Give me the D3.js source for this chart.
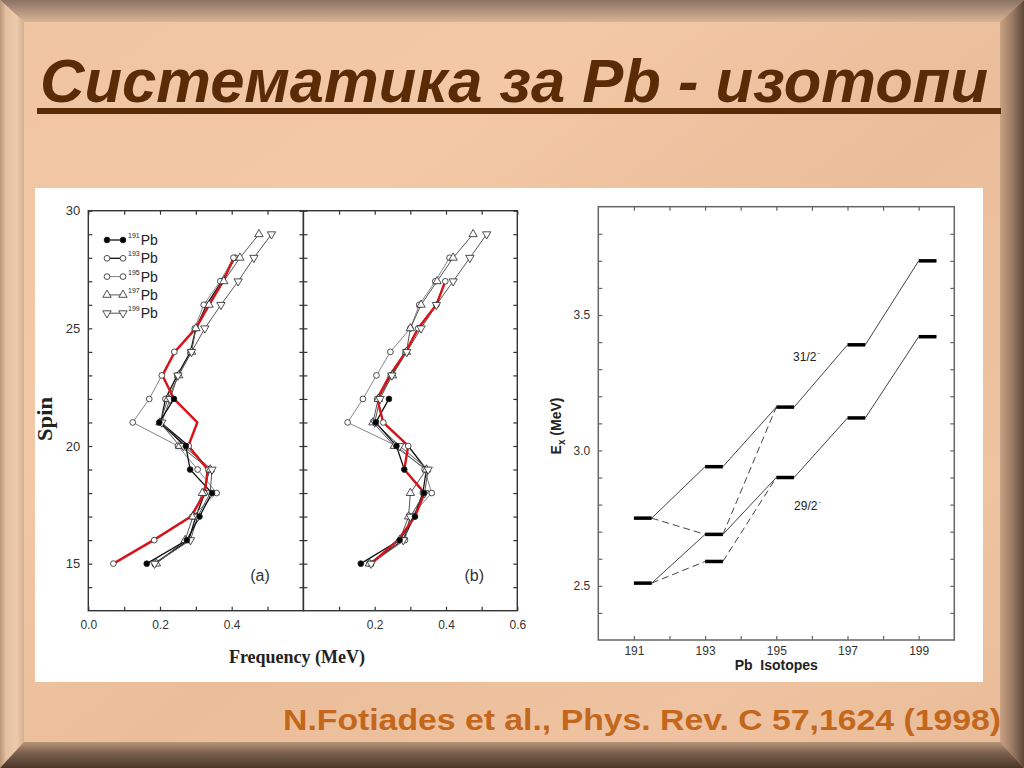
<!DOCTYPE html>
<html><head><meta charset="utf-8">
<script src="https://cdn.jsdelivr.net/npm/d3@7"></script>
<style>html,body{margin:0;padding:0;overflow:hidden;background:#eebf9c}</style>
</head><body><svg id="c" width="1024" height="768"></svg>
<script>
// ---------- DATA ----------
const titleText = "Систематика за Pb - изотопи";
const citationText = "N.Fotiades et al., Phys. Rev. C 57,1624 (1998)";

const spins = [15,16,17,18,19,20,21,22,23,24,25,26,27,28,29];
const seriesNames = ["191","193","195","197","199"];

// panel (a): frequency (MeV) for each spin, null = no point
const a191 = [0.163,0.275,0.310,0.345,0.284,0.272,0.198,0.239,null,null,null,null,null,null,null];
const a193 = [0.185,0.280,0.300,0.325,0.335,0.280,0.202,0.215,0.248,0.285,0.300,0.330,0.372,0.410,null];
const a195 = [0.070,0.184,0.290,0.358,0.305,0.250,0.124,0.170,0.205,0.240,0.297,0.322,0.368,0.405,null];
const a197 = [0.190,0.270,0.292,0.318,0.340,0.255,0.200,0.222,0.252,0.288,0.300,0.337,0.378,0.423,0.476];
const a199 = [0.185,0.285,0.305,0.340,0.345,0.265,0.205,0.228,0.250,0.288,0.325,0.370,0.418,0.462,0.511];
const aRed = [0.070,0.182,0.286,0.325,0.333,0.279,0.304,0.239,0.207,0.241,0.300,0.337,0.376,0.406,null];

// panel (b)
const b191 = [0.161,0.270,0.313,0.338,0.283,0.261,0.203,0.240,null,null,null,null,null,null,null];
const b193 = [0.185,0.280,0.310,0.335,0.345,0.294,0.224,0.207,0.245,0.287,0.322,0.373,0.398,null,null];
const b195 = [0.190,0.285,0.300,0.360,0.340,0.262,0.124,0.167,0.205,0.244,0.300,0.325,0.370,0.410,null];
const b197 = [0.185,0.270,0.295,0.300,0.345,0.255,0.195,0.210,0.250,0.289,0.300,0.330,0.375,0.420,0.476];
const b199 = [0.190,0.280,0.300,0.340,0.350,0.270,0.200,0.215,0.248,0.290,0.330,0.373,0.420,0.467,0.514];
const bRed = [0.190,0.265,0.313,0.340,0.283,0.294,0.224,0.207,0.242,0.287,0.322,0.373,0.398,null,null];

const freqTicksA = [0.0,0.1,0.2,0.3,0.4,0.5];
const freqLabelsA = [0.0,0.2,0.4];
const freqTicksB = [0.1,0.2,0.3,0.4,0.5,0.6];
const freqLabelsB = [0.2,0.4,0.6];
const spinTicks = [14,15,16,17,18,19,20,21,22,23,24,25,26,27,28,29,30];
const spinLabels = [15,20,25,30];

// right panel: excitation energies (MeV) of the 31/2- and 29/2- levels
const isotopes = [191,193,195,197,199];
const level31 = [2.75,2.94,3.16,3.39,3.70];
const level29 = [2.51,2.69,2.90,3.12,3.42];
const extraIso = [193];
const extraLevel = [2.59];
// dashed links: [fromIsotope, fromE, toIsotope, toE]
const dashedLinks = [[191,2.75,193,2.69],[193,2.69,195,3.16],[191,2.51,193,2.59],[193,2.59,195,2.90]];
const isoTicks = [191,192,193,194,195,196,197,198,199];
const isoLabels = [191,193,195,197,199];
const eTicks = [2.4,2.5,2.6,2.7,2.8,2.9,3.0,3.1,3.2,3.3,3.4,3.5,3.6,3.7,3.8];
const eLabels = [2.5,3.0,3.5];

// ---------- DRAW ----------
const svg = d3.select("#c");
const defs = svg.append("defs");
function lg(id, x1,y1,x2,y2, stops){
  const g = defs.append("linearGradient").attr("id",id).attr("x1",x1).attr("y1",y1).attr("x2",x2).attr("y2",y2);
  stops.forEach(s=>g.append("stop").attr("offset",s[0]).attr("stop-color",s[1]));
}
lg("bg","0","0","1","1",[[0,"#efc4a2"],[0.3,"#f2c8a6"],[0.55,"#ebbd9a"],[0.8,"#efc3a1"],[1,"#e9bb98"]]);
lg("topE","0","0","0","1",[[0,"#8c7264"],[1,"#d9b496"]]);
lg("leftE","0","0","1","0",[[0,"#b89478"],[0.25,"#e4c0a2"],[0.7,"#eccaac"],[1,"#d6ae8e"]]);
lg("rightE","0","0","1","0",[[0,"#caa284"],[0.5,"#9a7c66"],[1,"#5e4838"]]);
lg("botE","0","0","0","1",[[0,"#b69478"],[0.4,"#7e6250"],[1,"#4a3628"]]);

svg.append("rect").attr("width",1024).attr("height",768).attr("fill","url(#bg)");
const bw = 24, bh = 26;
svg.append("polygon").attr("points",`0,0 1024,0 ${1024-bw},${bh-4} ${bw},${bh-4}`).attr("fill","url(#topE)");
svg.append("polygon").attr("points",`0,0 ${bw},${bh-4} ${bw},${768-bh} 0,768`).attr("fill","url(#leftE)");
svg.append("polygon").attr("points",`1024,0 1024,768 ${1024-bw},${768-bh} ${1024-bw},${bh-4}`).attr("fill","url(#rightE)");
svg.append("polygon").attr("points",`0,768 ${bw},${768-bh} ${1024-bw},${768-bh} 1024,768`).attr("fill","url(#botE)");

// title (underline first, text on top)
svg.append("rect").attr("x",37).attr("y",108).attr("width",964).attr("height",6).attr("fill","#5a2b07");
svg.append("text").attr("x",40).attr("y",102).text(titleText)
  .attr("font-family","'Liberation Sans', Arial, sans-serif").attr("font-weight","bold").attr("font-style","italic")
  .attr("font-size",62).attr("fill","#5a2b07").attr("textLength",948).attr("lengthAdjust","spacingAndGlyphs");

// citation
svg.append("text").attr("x",283).attr("y",730).text(citationText)
  .attr("font-family","'Liberation Sans', Arial, sans-serif").attr("font-weight","bold")
  .attr("font-size",29).attr("fill","#c2671c").attr("textLength",718).attr("lengthAdjust","spacingAndGlyphs");

// white figure area
svg.append("rect").attr("x",35).attr("y",188).attr("width",948).attr("height",494).attr("fill","#ffffff");

// ---------- LEFT FIGURE ----------
const sans = "'Liberation Sans', Arial, Helvetica, sans-serif";
const serif = "'Liberation Serif', 'Times New Roman', serif";
const y = d3.scaleLinear().domain([13,30]).range([610.7,210.7]);
const xA = d3.scaleLinear().domain([0,0.6]).range([88.3,303.4]);
const xB = d3.scaleLinear().domain([0,0.6]).range([303.4,517.3]);
const fmt1 = d3.format(".1f");
const L = svg.append("g");

function styleAxis(g, color, fs){
  g.select(".domain").remove();
  g.selectAll(".tick line").attr("stroke",color).attr("stroke-width",1.2);
  g.selectAll(".tick text").attr("font-family",sans).attr("font-size",fs).attr("fill","#333");
}

const markerTypes = {
  "191": {type:d3.symbolCircle, size:26, fill:"#000", rot:0},
  "193": {type:d3.symbolCircle, size:26, fill:"#fff", rot:0},
  "195": {type:d3.symbolCircle, size:26, fill:"#fff", rot:0},
  "197": {type:d3.symbolTriangle, size:30, fill:"#fff", rot:0},
  "199": {type:d3.symbolTriangle, size:30, fill:"#fff", rot:180}
};
const lineStyles = {
  "191": {stroke:"#111", w:1.3},
  "193": {stroke:"#111", w:1.3},
  "195": {stroke:"#777", w:0.9},
  "197": {stroke:"#555", w:1.0},
  "199": {stroke:"#555", w:1.0}
};

function drawPanel(x, ticks, labels, series, red, leftLabels, tag){
  const [x0,x1] = x.range(); const [yb,yt] = y.range();
  const g = L.append("g");
  g.append("g").attr("transform",`translate(0,${yb})`)
    .call(d3.axisBottom(x).tickValues(ticks).tickFormat(d=>labels.some(v=>Math.abs(v-d)<1e-9)?fmt1(d):"")
      .tickSizeInner(-4).tickSizeOuter(0).tickPadding(10)).call(g=>styleAxis(g,"#333",12));
  g.append("g").attr("transform",`translate(0,${yt})`)
    .call(d3.axisTop(x).tickValues(ticks).tickFormat("").tickSizeInner(-4).tickSizeOuter(0)).call(g=>styleAxis(g,"#333",12));
  g.append("g").attr("transform",`translate(${x0},0)`)
    .call(d3.axisLeft(y).tickValues(spinTicks).tickFormat(d=>leftLabels && spinLabels.includes(d)?d:"")
      .tickSizeInner(-4).tickSizeOuter(0).tickPadding(8)).call(g=>styleAxis(g,"#333",13));
  g.append("g").attr("transform",`translate(${x1},0)`)
    .call(d3.axisRight(y).tickValues(spinTicks).tickFormat("").tickSizeInner(-4).tickSizeOuter(0)).call(g=>styleAxis(g,"#333",12));
  g.append("rect").attr("x",x0).attr("y",yt).attr("width",x1-x0).attr("height",yb-yt)
    .attr("fill","none").attr("stroke","#333").attr("stroke-width",1.4);

  const line = d3.line().defined(d=>d[1]!=null).x(d=>x(d[1])).y(d=>y(d[0]));
  series.forEach(([name,vals])=>{
    const pts = spins.map((s,i)=>[s,vals[i]]);
    g.append("path").attr("d",line(pts)).attr("fill","none")
      .attr("stroke",lineStyles[name].stroke).attr("stroke-width",lineStyles[name].w);
  });
  g.append("path").attr("d",line(spins.map((s,i)=>[s,red[i]]))).attr("fill","none")
    .attr("stroke","#d7141a").attr("stroke-width",2.4).attr("stroke-linejoin","round");
  series.forEach(([name,vals])=>{
    const m = markerTypes[name];
    const sym = d3.symbol().type(m.type).size(m.size);
    g.selectAll(null).data(spins.map((s,i)=>[s,vals[i]]).filter(d=>d[1]!=null)).join("path")
      .attr("d",sym).attr("transform",d=>`translate(${x(d[1])},${y(d[0])}) rotate(${m.rot})`)
      .attr("fill",m.fill).attr("stroke","#222").attr("stroke-width",0.8);
  });
  g.append("text").attr("x",x(0.0)+ (x(0.6)-x(0))*0.753).attr("y",y(14.25)).text(tag)
    .attr("font-family",sans).attr("font-size",16).attr("fill","#333");
}
drawPanel(xA, freqTicksA, freqLabelsA, [["193",a193],["195",a195],["197",a197],["199",a199],["191",a191]], aRed, true, "(a)");
drawPanel(xB, freqTicksB, freqLabelsB, [["193",b193],["195",b195],["197",b197],["199",b199],["191",b191]], bRed, false, "(b)");

// legend
seriesNames.forEach((name,i)=>{
  const ly = 240 + i*18.3;
  const lgG = L.append("g");
  lgG.append("line").attr("x1",107).attr("x2",123).attr("y1",ly).attr("y2",ly)
    .attr("stroke",lineStyles[name].stroke).attr("stroke-width",lineStyles[name].w);
  const m = markerTypes[name];
  [107,123].forEach(px=>lgG.append("path").attr("d",d3.symbol().type(m.type).size(m.size)())
    .attr("transform",`translate(${px},${ly}) rotate(${m.rot})`).attr("fill",m.fill).attr("stroke","#222").attr("stroke-width",0.8));
  const t = lgG.append("text").attr("x",128).attr("y",ly+5).attr("font-family",sans).attr("fill","#222");
  t.append("tspan").text(name).attr("font-size",7).attr("dy",-7);
  t.append("tspan").text("Pb").attr("font-size",14).attr("dy",7).attr("dx",1);
});

// axis titles
L.append("text").attr("transform",`translate(52,419) rotate(-90)`).attr("text-anchor","middle")
  .text("Spin").attr("font-family",serif).attr("font-weight","bold").attr("font-size",20)
  .attr("textLength",44).attr("lengthAdjust","spacingAndGlyphs").attr("fill","#222");
L.append("text").attr("x",297).attr("y",663).attr("text-anchor","middle")
  .text("Frequency (MeV)").attr("font-family",serif).attr("font-weight","bold").attr("font-size",18).attr("fill","#222");

// ---------- RIGHT FIGURE ----------
const xR = d3.scaleLinear().domain([190,200]).range([598.3,954.3]);
const yR = d3.scaleLinear().domain([2.3,3.9]).range([640,206.7]);
const R = svg.append("g");
const ax = "#666";
R.append("g").attr("transform",`translate(0,${yR(2.3)})`)
  .call(d3.axisBottom(xR).tickValues(isoTicks).tickFormat(d=>isoLabels.includes(d)?d:"").tickSizeInner(-4).tickSizeOuter(0).tickPadding(6))
  .call(g=>styleAxis(g,ax,12));
R.append("g").attr("transform",`translate(0,${yR(3.9)})`)
  .call(d3.axisTop(xR).tickValues(isoTicks).tickFormat("").tickSizeInner(-4).tickSizeOuter(0)).call(g=>styleAxis(g,ax,12));
R.append("g").attr("transform",`translate(${xR(190)},0)`)
  .call(d3.axisLeft(yR).tickValues(eTicks).tickFormat(d=>eLabels.some(v=>Math.abs(v-d)<1e-9)?fmt1(d):"").tickSizeInner(-4).tickSizeOuter(0).tickPadding(8))
  .call(g=>styleAxis(g,ax,12));
R.append("g").attr("transform",`translate(${xR(200)},0)`)
  .call(d3.axisRight(yR).tickValues(eTicks).tickFormat("").tickSizeInner(-4).tickSizeOuter(0)).call(g=>styleAxis(g,ax,12));
R.append("rect").attr("x",xR(190)).attr("y",yR(3.9)).attr("width",xR(200)-xR(190)).attr("height",yR(2.3)-yR(3.9))
  .attr("fill","none").attr("stroke",ax).attr("stroke-width",1.5);

function solidChain(levels){
  for(let i=0;i<isotopes.length-1;i++){
    R.append("line").attr("x1",xR(isotopes[i]+0.5)).attr("y1",yR(levels[i]))
      .attr("x2",xR(isotopes[i+1])).attr("y2",yR(levels[i+1])).attr("stroke","#444").attr("stroke-width",1);
  }
}
solidChain(level31); solidChain(level29);
dashedLinks.forEach(d=>{
  R.append("line").attr("x1",xR(d[0]+0.5)).attr("y1",yR(d[1])).attr("x2",xR(d[2])).attr("y2",yR(d[3]))
    .attr("stroke","#444").attr("stroke-width",1).attr("stroke-dasharray","7,4");
});
const bars = isotopes.map((iso,i)=>[iso,level31[i]]).concat(isotopes.map((iso,i)=>[iso,level29[i]]))
  .concat(extraIso.map((iso,i)=>[iso,extraLevel[i]]));
R.selectAll(null).data(bars).join("line")
  .attr("x1",d=>xR(d[0])).attr("x2",d=>xR(d[0]+0.5)).attr("y1",d=>yR(d[1])).attr("y2",d=>yR(d[1]))
  .attr("stroke","#000").attr("stroke-width",3.5);

function spinLabel(txt, xv, yv){
  const t = R.append("text").attr("x",xR(xv)).attr("y",yR(yv)).attr("font-family",sans).attr("font-size",12).attr("fill","#222");
  t.append("tspan").text(txt);
  t.append("tspan").text("-").attr("font-size",7).attr("dy",-6).attr("dx",1);
}
spinLabel("31/2", 195.47, 3.33);
spinLabel("29/2", 195.5, 2.78);

R.append("text").attr("x",xR(195)).attr("y",670).attr("text-anchor","middle").attr("xml:space","preserve")
  .text("Pb  Isotopes").attr("font-family",sans).attr("font-weight","bold").attr("font-size",14).attr("fill","#222");
const yl = R.append("text").attr("transform",`translate(561,426) rotate(-90)`).attr("text-anchor","middle")
  .attr("font-family",sans).attr("font-weight","bold").attr("font-size",14).attr("fill","#222");
yl.append("tspan").text("E");
yl.append("tspan").text("x").attr("font-size",10).attr("dy",4);
yl.append("tspan").text(" (MeV)").attr("dy",-4);
</script></body></html>
